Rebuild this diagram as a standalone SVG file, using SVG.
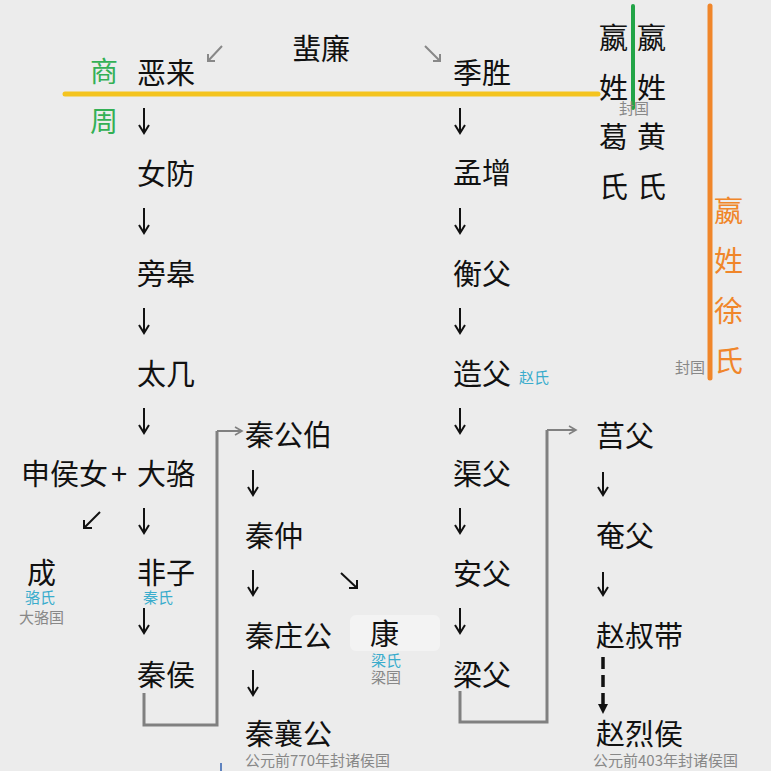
<svg xmlns="http://www.w3.org/2000/svg" width="771" height="771" viewBox="0 0 771 771">
<defs>
<style>
.n{font-family:"Noto Sans CJK SC","Liberation Sans",sans-serif;font-size:29px;fill:#111}
.g{font-family:"Noto Sans CJK SC","Liberation Sans",sans-serif;font-size:28px;fill:#33b055}
.o{font-family:"Noto Sans CJK SC","Liberation Sans",sans-serif;font-size:29px;fill:#f0862a}
.t{font-family:"Noto Sans CJK SC","Liberation Sans",sans-serif;font-size:15px;fill:#3aaccc}
.s{font-family:"Noto Sans CJK SC","Liberation Sans",sans-serif;font-size:15px;fill:#888}
.d{fill:none;stroke:#111;stroke-width:2}
.ga{fill:none;stroke:#888;stroke-width:2}
.c{fill:none;stroke:#808080;stroke-width:3}
</style>
<marker id="ah" markerWidth="10" markerHeight="10" refX="8" refY="5" orient="auto" markerUnits="userSpaceOnUse">
<path d="M1,1 L8,5 L1,9" fill="none" stroke="#808080" stroke-width="1.6"/>
</marker>
</defs>
<rect width="771" height="771" fill="#ececec"/>

<g id="dividers">
<line x1="65" y1="94" x2="598" y2="94" stroke="#f4c41f" stroke-width="5" stroke-linecap="round"/>
<line x1="633" y1="6" x2="633" y2="108" stroke="#22a447" stroke-width="4" stroke-linecap="round"/>
<line x1="710" y1="6" x2="710" y2="378" stroke="#f0862a" stroke-width="5" stroke-linecap="round"/>
<text class="g" x="90" y="82">商</text>
<text class="g" x="90" y="132">周</text>
</g>

<g id="surname-ge">
<text class="n" x="599" y="49" font-size="28">嬴</text>
<text class="n" x="599" y="99" font-size="28">姓</text>
<text class="n" x="599" y="148" font-size="28">葛</text>
<text class="n" x="599" y="198" font-size="28">氏</text>
</g>
<g id="surname-huang">
<text class="n" x="637" y="49" font-size="28">嬴</text>
<text class="n" x="637" y="99" font-size="28">姓</text>
<text class="n" x="637" y="148" font-size="28">黄</text>
<text class="n" x="637" y="198" font-size="28">氏</text>
<text class="s" x="619" y="114">封国</text>
</g>
<g id="surname-xu">
<text class="o" x="714" y="222">嬴</text>
<text class="o" x="714" y="272">姓</text>
<text class="o" x="714" y="322">徐</text>
<text class="o" x="714" y="372">氏</text>
<text class="s" x="675" y="373">封国</text>
</g>

<g id="feilian"><text class="n" x="292" y="60">蜚廉</text></g>
<g id="elai"><text class="n" x="137" y="84">恶来</text></g>
<g id="nvfang"><text class="n" x="137" y="185">女防</text></g>
<g id="panggao"><text class="n" x="137" y="285">旁皋</text></g>
<g id="taiji"><text class="n" x="137" y="385">太几</text></g>
<g id="daluo"><text class="n" x="137" y="485">大骆</text></g>
<g id="feizi"><text class="n" x="137" y="584">非子</text><text class="t" x="143" y="603">秦氏</text></g>
<g id="qinhou"><text class="n" x="137" y="686">秦侯</text></g>
<g id="shenhounv"><text class="n" x="21" y="485">申侯女<tspan dx="3">+</tspan></text></g>
<g id="cheng"><text class="n" x="27" y="584">成</text><text class="t" x="25" y="603">骆氏</text><text class="s" x="19" y="623" font-size="16">大骆国</text></g>

<g id="qingongbo"><text class="n" x="245" y="446">秦公伯</text></g>
<g id="qinzhong"><text class="n" x="245" y="547">秦仲</text></g>
<g id="qinzhuanggong"><text class="n" x="245" y="647">秦庄公</text></g>
<g id="qinxianggong"><text class="n" x="245" y="745">秦襄公</text><text class="s" x="245" y="766" font-size="16">公元前770年封诸侯国</text></g>
<g id="kang"><rect x="350" y="615" width="90" height="36" rx="6" fill="#f3f3f3"/><text class="n" x="370" y="645">康</text><text class="t" x="371" y="666">梁氏</text><text class="s" x="371" y="683">梁国</text></g>

<g id="jisheng"><text class="n" x="453" y="84">季胜</text></g>
<g id="mengzeng"><text class="n" x="453" y="184">孟增</text></g>
<g id="hengfu"><text class="n" x="453" y="285">衡父</text></g>
<g id="zaofu"><text class="n" x="453" y="385">造父</text><text class="t" x="519" y="383">赵氏</text></g>
<g id="qufu"><text class="n" x="453" y="485">渠父</text></g>
<g id="anfu"><text class="n" x="453" y="585">安父</text></g>
<g id="liangfu"><text class="n" x="453" y="686">梁父</text></g>

<g id="jufu"><text class="n" x="596" y="447">莒父</text></g>
<g id="yanfu"><text class="n" x="596" y="547">奄父</text></g>
<g id="zhaoshudai"><text class="n" x="596" y="647">赵叔带</text></g>
<g id="zhaoliehou"><text class="n" x="596" y="745">赵烈侯</text><text class="s" x="593" y="766">公元前403年封诸侯国</text></g>

<g id="connectors">
<path class="ga" d="M222,46 L208,61 M208,54 V61 H215"/>
<path class="ga" d="M425,46 L440,61 M440,54 V61 H433"/>
<path class="d" d="M144,108 V133 M139,125 L144,133 L149,125"/>
<path class="d" d="M144,208 V233 M139,225 L144,233 L149,225"/>
<path class="d" d="M144,308 V333 M139,325 L144,333 L149,325"/>
<path class="d" d="M144,408 V433 M139,425 L144,433 L149,425"/>
<path class="d" d="M144,508 V533 M139,525 L144,533 L149,525"/>
<path class="d" d="M144,608 V633 M139,625 L144,633 L149,625"/>
<path class="d" d="M100,512 L84,528 M84,520 V528 H92"/>
<path class="d" d="M253,470 V495 M248,487 L253,495 L258,487"/>
<path class="d" d="M253,570 V595 M248,587 L253,595 L258,587"/>
<path class="d" d="M253,670 V695 M248,687 L253,695 L258,687"/>
<path class="d" d="M341,573 L357,588 M357,580 V588 H349"/>
<path class="d" d="M460,108 V133 M455,125 L460,133 L465,125"/>
<path class="d" d="M460,208 V233 M455,225 L460,233 L465,225"/>
<path class="d" d="M460,308 V333 M455,325 L460,333 L465,325"/>
<path class="d" d="M460,408 V433 M455,425 L460,433 L465,425"/>
<path class="d" d="M460,508 V533 M455,525 L460,533 L465,525"/>
<path class="d" d="M460,608 V633 M455,625 L460,633 L465,625"/>
<path class="d" d="M603,472 V495 M598,487 L603,495 L608,487"/>
<path class="d" d="M603,572 V595 M598,587 L603,595 L608,587"/>
<line x1="603" y1="657" x2="603" y2="705" stroke="#111" stroke-width="3.5" stroke-dasharray="12,6"/>
<path d="M598,704 L608,704 L603,714 Z" fill="#111"/>
<path class="c" d="M144,693 V725 H217 V431"/>
<path d="M217,431 H242" fill="none" stroke="#808080" stroke-width="2" marker-end="url(#ah)"/>
<path class="c" d="M460,691 V722 H547 V430"/>
<path d="M547,430 H576" fill="none" stroke="#808080" stroke-width="2" marker-end="url(#ah)"/>
<line x1="221" y1="763" x2="221" y2="771" stroke="#3060b0" stroke-width="1.5"/>
</g>
</svg>
